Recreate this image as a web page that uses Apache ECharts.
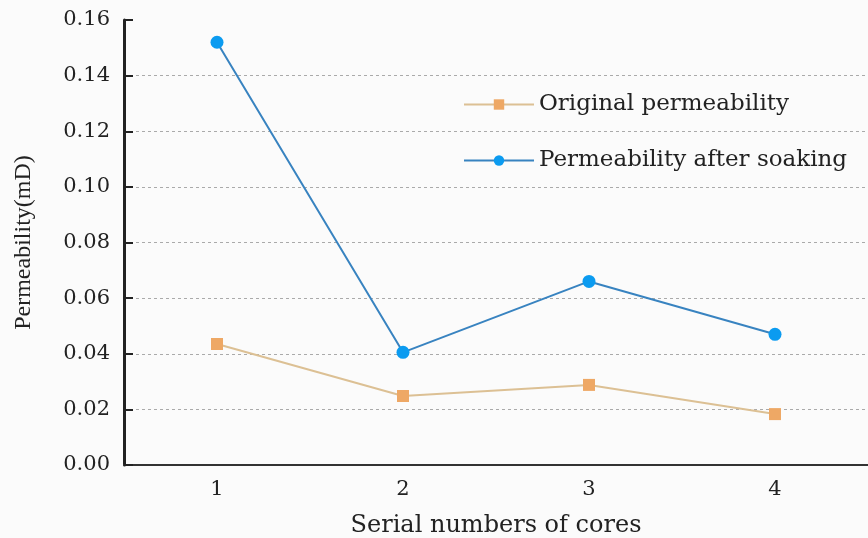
<!DOCTYPE html>
<html><head><meta charset="utf-8">
<script src="https://cdn.jsdelivr.net/npm/echarts@6/dist/echarts.min.js"></script>
<style>html,body{margin:0;padding:0;background:#fbfbfb}#c{width:868px;height:538px}</style>
</head><body><div id="c"></div>
<script>
const categories = ['1', '2', '3', '4'];
const originalPerm = [0.0435, 0.0248, 0.0288, 0.0183];
const soakedPerm = [0.152, 0.0405, 0.066, 0.047];
const seriesNames = ['Original permeability', 'Permeability after soaking'];

const wide = '"DejaVu Serif", serif';
const serif = '"Liberation Serif", "DejaVu Serif", serif';
const chart = echarts.init(document.getElementById('c'));
chart.setOption({
  backgroundColor: '#fbfbfb',
  animation: false,
  grid: { left: 124, right: 0, top: 20, bottom: 73, outerBoundsMode: 'none', containLabel: false },
  legend: {
    orient: 'vertical', left: 458, top: 88, itemWidth: 70, itemHeight: 13, itemGap: 33,
    textStyle: { fontFamily: wide, fontSize: 23, color: '#222' },
    data: seriesNames
  },
  xAxis: {
    type: 'category', data: categories, boundaryGap: true,
    name: 'Serial numbers of cores', nameLocation: 'middle', nameGap: 49,
    nameTextStyle: { fontFamily: wide, fontSize: 24, color: '#222' },
    axisLine: { lineStyle: { color: '#333', width: 2 } },
    axisTick: { alignWithLabel: true, length: 8, lineStyle: { color: '#333', width: 2 } },
    axisLabel: { fontFamily: wide, fontSize: 21, color: '#222', margin: 14 }
  },
  yAxis: {
    type: 'value', min: 0, max: 0.16, interval: 0.02,
    name: 'Permeability(mD)', nameLocation: 'middle', nameGap: 88,
    nameTextStyle: { fontFamily: serif, fontSize: 24, color: '#222' },
    axisLine: { show: true, lineStyle: { color: '#222', width: 3 } },
    axisTick: { show: true, inside: true, length: 9, lineStyle: { color: '#222', width: 2 } },
    axisLabel: { fontFamily: wide, fontSize: 21, color: '#222', margin: 14, formatter: v => v.toFixed(2) },
    splitLine: { show: true, showMaxLine: false, lineStyle: { color: '#aaa', type: [3, 3], width: 1 } }
  },
  series: [
    {
      name: seriesNames[0], type: 'line', data: originalPerm,
      symbol: 'rect', symbolSize: 12,
      lineStyle: { color: '#dcc094', width: 2 },
      itemStyle: { color: '#eea865' }
    },
    {
      name: seriesNames[1], type: 'line', data: soakedPerm,
      symbol: 'circle', symbolSize: 13,
      lineStyle: { color: '#3883c0', width: 2 },
      itemStyle: { color: '#0b9bf0' }
    }
  ]
});
</script></body></html>
